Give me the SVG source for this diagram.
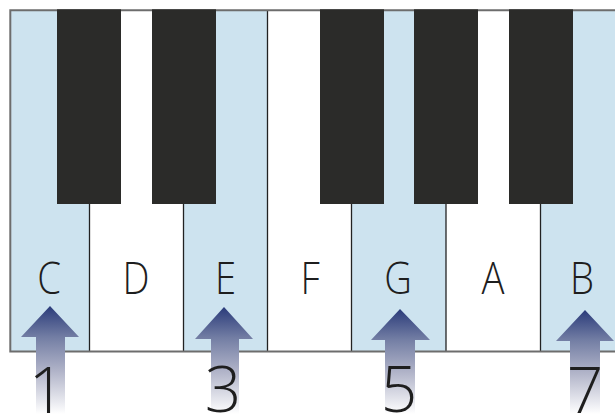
<svg xmlns="http://www.w3.org/2000/svg" width="615" height="414" viewBox="0 0 615 414">
<defs>
<style>
.wb{fill:#cde3ef}
.ww{fill:#ffffff}
.blk{fill:#2b2b29}
.div{stroke:#222;stroke-width:1.3;fill:none}
.lt{font-family:"Open Sans","Liberation Sans",Arial,sans-serif;font-weight:300;font-size:45px;fill:#1e1e1e;text-anchor:middle}
.num{font-family:"Open Sans","Liberation Sans",Arial,sans-serif;font-weight:300;font-size:64px;fill:#1e1e1e;text-anchor:middle}
.arr{fill:url(#ag)}
</style>
<linearGradient id="ag" x1="0" y1="0" x2="0" y2="1">
<stop offset="0" stop-color="#2a3b7a"/>
<stop offset="0.29" stop-color="#737ea4"/>
<stop offset="0.6" stop-color="#b0b3c8"/>
<stop offset="1" stop-color="#ffffff"/>
</linearGradient>
</defs>
<rect width="615" height="414" fill="#ffffff"/>
<g id="white-keys">
<g id="key-C"><rect class="wb" x="10" y="10" width="79.5" height="341.5"/><text class="lt" transform="translate(49,294) scale(0.85,1)">C</text></g>
<g id="key-D"><rect class="ww" x="89.5" y="10" width="94" height="341.5"/><text class="lt" transform="translate(136,294) scale(0.85,1)">D</text></g>
<g id="key-E"><rect class="wb" x="183.5" y="10" width="84" height="341.5"/><text class="lt" transform="translate(225.5,294) scale(0.85,1)">E</text></g>
<g id="key-F"><rect class="ww" x="267.5" y="10" width="84" height="341.5"/><text class="lt" transform="translate(310,294) scale(0.85,1)">F</text></g>
<g id="key-G"><rect class="wb" x="351.5" y="10" width="94.5" height="341.5"/><text class="lt" transform="translate(398,294) scale(0.85,1)">G</text></g>
<g id="key-A"><rect class="ww" x="446" y="10" width="94.5" height="341.5"/><text class="lt" transform="translate(493,294) scale(0.85,1)">A</text></g>
<g id="key-B"><rect class="wb" x="540.5" y="10" width="80" height="341.5"/><text class="lt" transform="translate(582,294) scale(0.85,1)">B</text></g>
</g>
<g id="dividers">
<line class="div" x1="89.5" y1="204" x2="89.5" y2="351"/>
<line class="div" x1="183.5" y1="204" x2="183.5" y2="351"/>
<line class="div" x1="267.5" y1="10" x2="267.5" y2="351"/>
<line class="div" x1="351.5" y1="204" x2="351.5" y2="351"/>
<line class="div" x1="446" y1="204" x2="446" y2="351"/>
<line class="div" x1="540.5" y1="204" x2="540.5" y2="351"/>
</g>
<g id="border">
<path d="M616,10.3 H10.3 V351.5 H616" fill="none" stroke="#6d6d6d" stroke-width="2"/>
</g>
<g id="black-keys">
<rect id="bk1" class="blk" x="57" y="9.3" width="64" height="194.7"/>
<rect id="bk2" class="blk" x="152" y="9.3" width="64" height="194.7"/>
<rect id="bk3" class="blk" x="320" y="9.3" width="64" height="194.7"/>
<rect id="bk4" class="blk" x="414" y="9.3" width="64" height="194.7"/>
<rect id="bk5" class="blk" x="509" y="9.3" width="64" height="194.7"/>
</g>
<g id="arrows">
<path id="arrow1" class="arr" d="M50,306 L79,337 L65,337 L65,414 L36,414 L36,337 L21,337 Z"/>
<path id="arrow3" class="arr" d="M224,307 L253,339 L239,339 L239,414 L211,414 L211,339 L195,339 Z"/>
<path id="arrow5" class="arr" d="M400,309 L430,340 L415,340 L415,414 L385,414 L385,340 L371,340 Z"/>
<path id="arrow7" class="arr" d="M585,310 L614,341 L600,341 L600,414 L570,414 L570,341 L556,341 Z"/>
</g>
<g id="degrees">
<text class="num" x="47" y="413">1</text>
<text class="num" x="223" y="412">3</text>
<text class="num" x="399" y="412">5</text>
<text class="num" x="585" y="413">7</text>
</g>
</svg>
